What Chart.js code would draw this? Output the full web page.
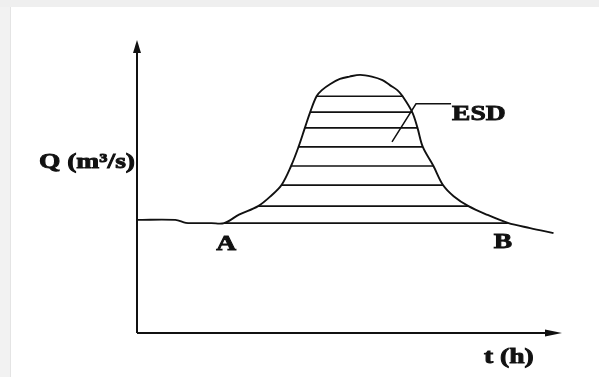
<!DOCTYPE html>
<html>
<head>
<meta charset="utf-8">
<script src="https://cdn.jsdelivr.net/npm/chart.js@4.4.1/dist/chart.umd.min.js"></script>
<style>
  html, body { margin: 0; padding: 0; background: #fff; }
  #wrap {
    position: relative;
    width: 599px;
    height: 377px;
    background:
      linear-gradient(#efefef, #efefef) 0 0 / 599px 7px no-repeat,
      linear-gradient(#e4e4e4, #e4e4e4) 10px 0 / 1px 377px no-repeat,
      linear-gradient(#f2f2f2, #f2f2f2) 0 0 / 10px 377px no-repeat,
      #fff;
  }
  canvas { position: absolute; left: 0; top: 0; }
</style>
</head>
<body>
<div id="wrap"><canvas id="c" width="599" height="377"></canvas></div>
<script>
// Hidrograma: caudal Q frente a tiempo t (unidades relativas)
const tCurve = [0, 1.8, 2.3, 2.7, 3.5, 4.1, 4.8, 5.7, 6.35, 6.8, 7.25, 7.6, 7.9, 8.15, 8.45, 8.7, 9.1, 9.55, 10.0, 10.5, 11.05, 11.55,
                11.9, 12.25, 12.5, 12.95, 13.2, 13.45, 13.95, 14.4, 14.9, 15.6, 16.5, 17.45, 18.5, 19.6];
const qCurve = [38.6, 38.6, 37.6, 37.5, 37.5, 37.5, 40.4, 43.3, 47.1, 50.5, 57.0, 63.5, 70.0, 75.4, 80.8, 82.9, 85.0, 86.7, 87.5, 88.1, 87.5, 86.3,
                84.6, 82.9, 80.8, 75.4, 70.0, 63.5, 57.0, 50.5, 46.7, 43.3, 40.3, 37.6, 35.8, 34.1];

// Líneas de rayado (escorrentía directa, ESD)
const hatchQ     = [80.8, 75.4, 70.0, 63.5, 57.0, 50.5, 43.3];
const hatchLeft  = [8.45, 8.15, 7.9, 7.6, 7.25, 6.8, 5.7];
const hatchRight = [12.5, 12.95, 13.2, 13.45, 13.95, 14.4, 15.6];

// Línea base A-B
const pointA = { t: 4.1, q: 37.5 };
const pointB = { t: 17.45, q: 37.5 };

// Línea guía de la etiqueta ESD
const leaderT = [12.0, 13.13, 14.78];
const leaderQ = [65.2, 78.2, 78.2];

const INK = '#111111';
const FONT = "bold 22px 'Liberation Serif', 'DejaVu Serif', serif";

const curveData = tCurve.map((t, i) => ({ x: t, y: qCurve[i] }));

const datasets = [{
  data: curveData,
  borderColor: INK,
  borderWidth: 1.9,
  pointRadius: 0,
  tension: 0.35
}];

hatchQ.forEach((q, i) => {
  datasets.push({
    data: [{ x: hatchLeft[i], y: q }, { x: hatchRight[i], y: q }],
    borderColor: INK,
    borderWidth: 1.7,
    pointRadius: 0
  });
});

datasets.push({
  data: [{ x: pointA.t, y: pointA.q }, { x: pointB.t, y: pointB.q }],
  borderColor: INK,
  borderWidth: 1.7,
  pointRadius: 0
});

datasets.push({
  data: leaderT.map((t, i) => ({ x: t, y: leaderQ[i] })),
  borderColor: INK,
  borderWidth: 1.5,
  pointRadius: 0
});

// Texto estirado horizontalmente y algo engrosado, como en la figura original
function stretchText(ctx, text, x, y, align) {
  ctx.save();
  ctx.translate(x, y);
  ctx.scale(1.25, 1);
  ctx.textAlign = align;
  ctx.textBaseline = 'middle';
  ctx.lineWidth = 0.9;
  ctx.strokeText(text, 0, 0);
  ctx.fillText(text, 0, 0);
  ctx.restore();
}

const axesPlugin = {
  id: 'axesPlugin',
  afterDatasetsDraw(chart) {
    const { ctx, scales: { x, y } } = chart;
    const x0 = x.getPixelForValue(0);
    const y0 = y.getPixelForValue(0);
    const xEnd = x.getPixelForValue(x.max);
    const yEnd = y.getPixelForValue(y.max);

    ctx.save();
    ctx.strokeStyle = INK;
    ctx.fillStyle = INK;
    ctx.lineWidth = 2;

    // ejes
    ctx.beginPath();
    ctx.moveTo(x0, y0);
    ctx.lineTo(x0, yEnd + 10);
    ctx.moveTo(x0, y0);
    ctx.lineTo(xEnd - 12, y0);
    ctx.stroke();

    // flechas
    ctx.beginPath();
    ctx.moveTo(x0, yEnd);
    ctx.lineTo(x0 - 4, yEnd + 13);
    ctx.lineTo(x0 + 4, yEnd + 13);
    ctx.closePath();
    ctx.fill();

    ctx.beginPath();
    ctx.moveTo(xEnd, y0);
    ctx.lineTo(xEnd - 17, y0 - 3.5);
    ctx.lineTo(xEnd - 17, y0 + 3.5);
    ctx.closePath();
    ctx.fill();

    // textos
    ctx.font = FONT;
    stretchText(ctx, 'Q (m³/s)', x0 - 2, y.getPixelForValue(58.4), 'right');
    stretchText(ctx, 't (h)', x.getPixelForValue(17.5), y0 + 24, 'center');
    stretchText(ctx, 'A', x.getPixelForValue(pointA.t) + 2, y.getPixelForValue(pointA.q) + 21, 'center');
    stretchText(ctx, 'B', x.getPixelForValue(pointB.t) - 5, y.getPixelForValue(pointB.q) + 19, 'center');
    stretchText(ctx, 'ESD', x.getPixelForValue(leaderT[2]) + 1, y.getPixelForValue(leaderQ[2]) + 10, 'left');
    ctx.restore();
  }
};

new Chart(document.getElementById('c'), {
  type: 'line',
  data: { datasets },
  options: {
    responsive: false,
    animation: false,
    events: [],
    layout: { padding: { left: 137, right: 37, top: 40, bottom: 44 } },
    plugins: { legend: { display: false }, tooltip: { enabled: false } },
    scales: {
      x: { type: 'linear', min: 0, max: 20, display: false },
      y: { type: 'linear', min: 0, max: 100, display: false }
    }
  },
  plugins: [axesPlugin]
});
</script>
</body>
</html>
